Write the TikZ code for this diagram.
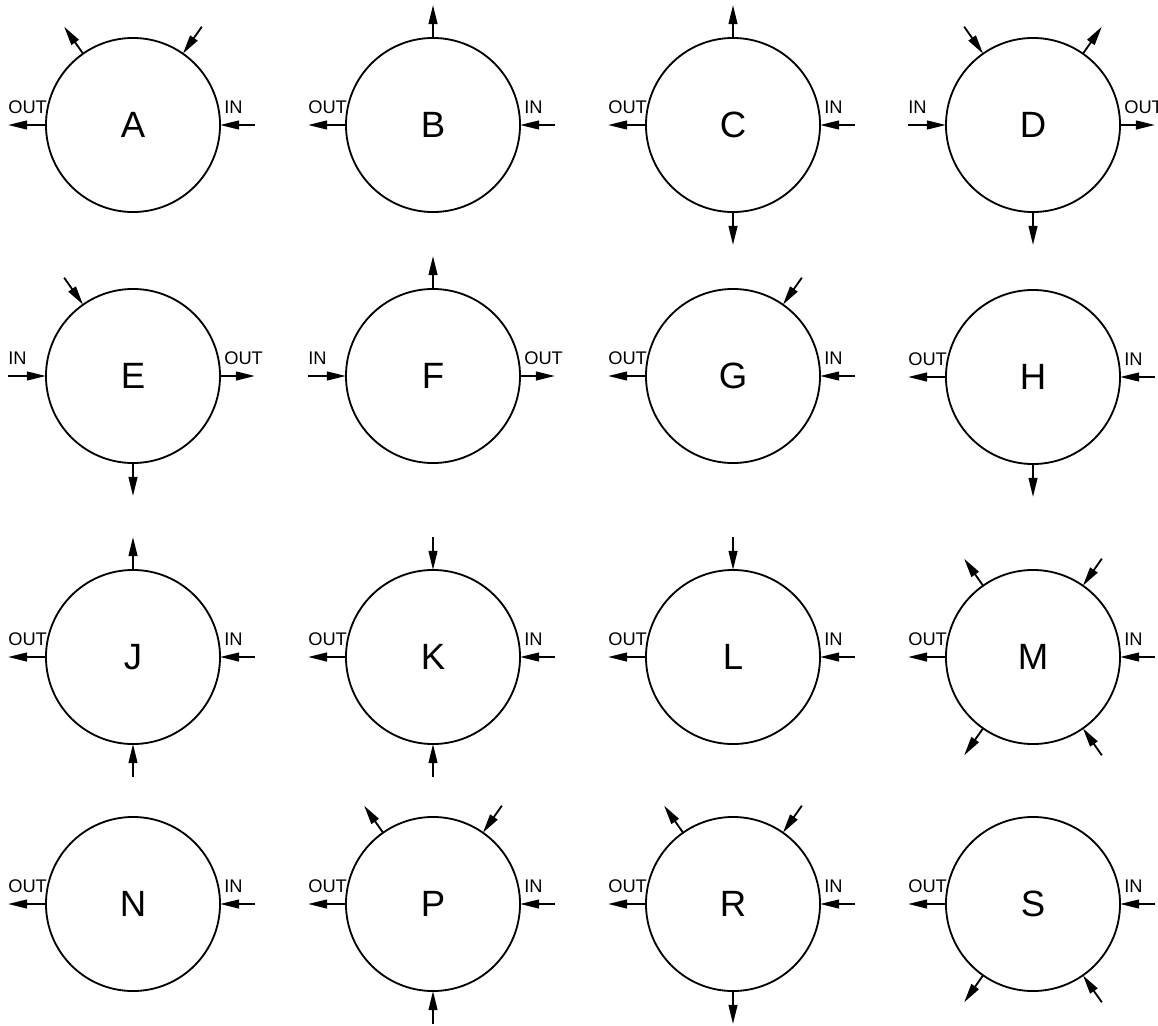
\documentclass[tikz,border=0pt]{standalone}
\usepackage{fontspec}
\setmainfont{Liberation Sans}
\usetikzlibrary{arrows.meta, calc}

\tikzset{
  ring/.style={draw, circle, line width=1.3pt, minimum size=4.35cm,
    inner sep=0pt, outer sep=0pt, font=\fontsize{26}{26}\selectfont},
  tag/.style={inner sep=0pt, font=\fontsize{13}{13}\selectfont},
  flow/.style={line width=1.3pt, -{Triangle[length=0.48cm, width=0.22cm]}},
}

\begin{document}
\begin{tikzpicture}[x=0.025cm, y=0.025cm]
        \useasboundingbox (0,0) rectangle (1158,-1026);

        % ── CIRCLES ────────────────────────────────
        \foreach \n/\cx/\cy in {A/133/125, B/433/125, C/733/125, D/1033/125,
                                E/133/376, F/433/376, G/733/376, H/1033/377,
                                J/133/657, K/433/657, L/733/657, M/1033/657,
                                N/133/904, P/433/904, R/733/904, S/1033/904} {
          \node[ring] (\n) at (\cx,-\cy) {\n};
          \coordinate (\n-w) at ($(\n)+(-125,0)$);
          \coordinate (\n-e) at ($(\n)+(122,0)$);
        }

        % ── OUT left, IN right ─────────────────────
        \foreach \n in {A,B,C,G,H,J,K,L,M,N,P,R,S} {
          \draw[flow] (\n.west) -- (\n-w);
          \draw[flow] (\n-e) -- (\n.east);
          \node[tag, anchor=base west] (\n-out) at ($(\n-w)+(0,12)$) {OUT};
          \node[tag, anchor=base west] (\n-in) at ($(\n.east)+(4,12)$) {IN};
        }

        % ── IN left, OUT right ─────────────────────
        \foreach \n in {D,E,F} {
          \draw[flow] (\n-w) -- (\n.west);
          \draw[flow] (\n.east) -- (\n-e);
          \node[tag, anchor=base west] (\n-in) at ($(\n-w)+(0,12)$) {IN};
          \node[tag, anchor=base west] (\n-out) at ($(\n.east)+(4,12)$) {OUT};
        }

        % ── OUTGOING STUBS ─────────────────────────
        \foreach \n/\a in {A/125, B/90, C/90, C/270, D/55, D/270, E/270,
                           F/90, H/270, J/90, M/125, M/235, P/125,
                           R/125, R/270, S/235} {
          \coordinate (\n-\a) at ($(\n)+(\a:120)$);
          \draw[flow] (\n.\a) -- (\n-\a);
        }

        % ── INCOMING STUBS ─────────────────────────
        \foreach \n/\a in {A/55, D/125, E/125, G/55, J/270, K/90, K/270,
                           L/90, M/55, M/305, P/55, P/270, R/55, S/305} {
          \coordinate (\n-\a) at ($(\n)+(\a:120)$);
          \draw[flow] (\n-\a) -- (\n.\a);
        }
\end{tikzpicture}
\end{document}
